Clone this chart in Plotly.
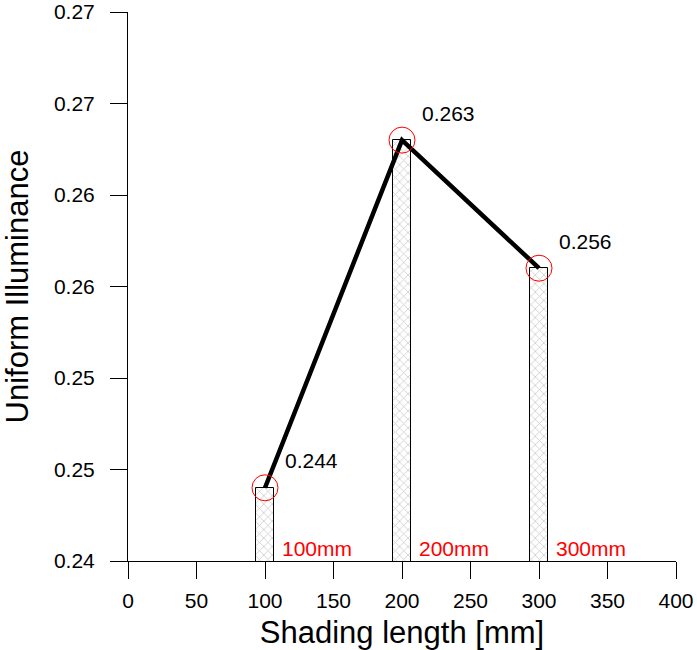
import plotly.graph_objects as go

shading = [100, 200, 300]
illum = [0.244, 0.263, 0.256]
value_labels = ["0.244", "0.263", "0.256"]
cat_labels = ["100mm", "200mm", "300mm"]
y_tickvals = [0.24, 0.245, 0.25, 0.255, 0.26, 0.265, 0.27]
y_ticktext = ["0.24", "0.25", "0.25", "0.26", "0.26", "0.27", "0.27"]
x_tickvals = [0, 50, 100, 150, 200, 250, 300, 350, 400]

FONT = "Liberation Sans, Arial, sans-serif"

fig = go.Figure()
fig.add_trace(go.Bar(
    x=shading, y=illum, width=13.5,
    marker=dict(color="white", line=dict(color="black", width=1),
                pattern=dict(shape="x", fgcolor="#999999", bgcolor="white", size=6, solidity=0.25)),
    showlegend=False, hoverinfo="skip",
))
fig.add_trace(go.Scatter(
    x=shading, y=illum, mode="lines+markers",
    line=dict(color="black", width=4.5),
    marker=dict(symbol="circle-open", size=26, color="red", line=dict(color="red", width=1)),
    showlegend=False,
))

for xv, yv, t in zip(shading, illum, value_labels):
    fig.add_annotation(x=xv, y=yv, text=t, showarrow=False, xanchor="left", yanchor="middle",
                       xshift=18, yshift=27, font=dict(family=FONT, size=21, color="black"))
for xv, t in zip(shading, cat_labels):
    fig.add_annotation(x=xv, y=0.24, text=t, showarrow=False, xanchor="left", yanchor="middle",
                       xshift=15, yshift=13, font=dict(family=FONT, size=21, color="red"))

fig.update_layout(
    width=697, height=650,
    margin=dict(l=128, r=21, t=12, b=89),
    plot_bgcolor="white", paper_bgcolor="white",
    font=dict(family=FONT, size=21, color="black"),
    bargap=0,
)
fig.update_xaxes(
    range=[0, 400], tickvals=x_tickvals, showgrid=False, zeroline=False, automargin=False,
    showline=True, linecolor="black", linewidth=1,
    ticks="outside", ticklen=17, tickwidth=1, tickcolor="black",
    tickfont=dict(family=FONT, size=21), ticklabelstandoff=4,
    title=dict(text="Shading length [mm]", font=dict(family=FONT, size=31), standoff=10),
)
fig.update_yaxes(
    range=[0.24, 0.27], tickvals=y_tickvals, ticktext=y_ticktext, showgrid=False, zeroline=False,
    automargin=False,
    showline=True, linecolor="black", linewidth=1,
    ticks="outside", ticklen=17, tickwidth=1, tickcolor="black",
    tickfont=dict(family=FONT, size=21), ticklabelstandoff=11,
    title=dict(text="Uniform Illuminance", font=dict(family=FONT, size=31), standoff=20),
)

fig.write_html("out.html")
